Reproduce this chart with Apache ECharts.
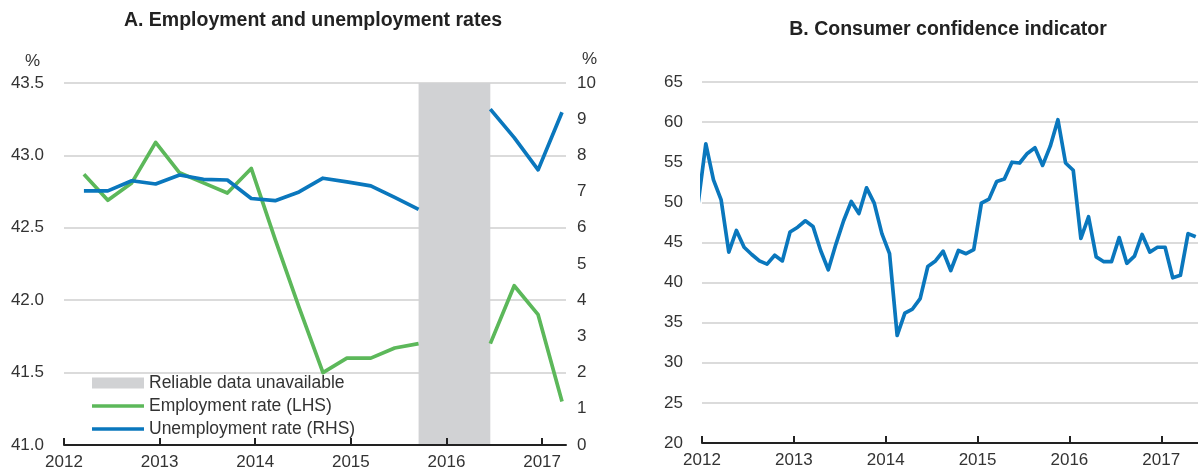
<!DOCTYPE html>
<html>
<head>
<meta charset="utf-8">
<script src="https://cdn.jsdelivr.net/npm/echarts@6/dist/echarts.min.js"></script>
<style>
  html, body { margin: 0; padding: 0; background: #fff; }
  #chart { width: 1198px; height: 474px; }
</style>
</head>
<body>
<div id="chart"></div>
<script>
// Panel A: quarterly labour-market rates (2012Q1 – 2017Q1); null = no reliable data
const quarters = [
  '2012Q1','2012Q2','2012Q3','2012Q4',
  '2013Q1','2013Q2','2013Q3','2013Q4',
  '2014Q1','2014Q2','2014Q3','2014Q4',
  '2015Q1','2015Q2','2015Q3','2015Q4',
  '2016Q1','2016Q2','2016Q3','2016Q4',
  '2017Q1'
];
const employmentRate = [
  42.87, 42.69, 42.81, 43.09,
  42.88, 42.81, 42.74, 42.91,
  42.42, 41.95, 41.50, 41.60,
  41.60, 41.67, 41.70, null,
  null, 41.70, 42.10, 41.90,
  41.30
];
const unemploymentRate = [
  7.02, 7.02, 7.30, 7.21,
  7.46, 7.34, 7.32, 6.81,
  6.75, 6.99, 7.37, 7.27,
  7.16, 6.84, 6.51, null,
  null, 9.28, 8.49, 7.60,
  9.19
];

// Panel B: monthly consumer confidence indicator (Dec 2011 – May 2017)
const months = [
  '2011-12',
  '2012-01','2012-02','2012-03','2012-04','2012-05','2012-06','2012-07','2012-08','2012-09','2012-10','2012-11','2012-12',
  '2013-01','2013-02','2013-03','2013-04','2013-05','2013-06','2013-07','2013-08','2013-09','2013-10','2013-11','2013-12',
  '2014-01','2014-02','2014-03','2014-04','2014-05','2014-06','2014-07','2014-08','2014-09','2014-10','2014-11','2014-12',
  '2015-01','2015-02','2015-03','2015-04','2015-05','2015-06','2015-07','2015-08','2015-09','2015-10','2015-11','2015-12',
  '2016-01','2016-02','2016-03','2016-04','2016-05','2016-06','2016-07','2016-08','2016-09','2016-10','2016-11','2016-12',
  '2017-01','2017-02','2017-03','2017-04','2017-05'
];
const consumerConfidence = [
  49.9,
  57.3, 52.8, 50.3, 43.8, 46.5, 44.4, 43.5, 42.7, 42.3, 43.4, 42.7, 46.3,
  46.9, 47.7, 47.0, 44.0, 41.6, 44.8, 47.7, 50.1, 48.6, 51.8, 49.9, 46.1,
  43.6, 33.4, 36.2, 36.7, 38.0, 42.0, 42.7, 43.9, 41.5, 44.0, 43.6, 44.1,
  49.9, 50.4, 52.6, 52.9, 55.0, 54.9, 56.1, 56.8, 54.6, 57.0, 60.3, 54.9,
  54.0, 45.5, 48.2, 43.2, 42.6, 42.6, 45.6, 42.4, 43.3, 46.0, 43.8, 44.4,
  44.4, 40.6, 40.9, 46.1, 45.7
];

const yearTicks = [2012, 2013, 2014, 2015, 2016, 2017];
const leftTicks = [41.0, 41.5, 42.0, 42.5, 43.0, 43.5];
const rightTicks = [0, 1, 2, 3, 4, 5, 6, 7, 8, 9, 10];
const confidenceTicks = [20, 25, 30, 35, 40, 45, 50, 55, 60, 65];

const NAME_GAP = 'Reliable data unavailable';
const NAME_EMP = 'Employment rate (LHS)';
const NAME_UNEMP = 'Unemployment rate (RHS)';

// Place each observation in the middle of the month it refers to
// (quarters are shown at their last month).
function quarterPos(q) {
  const year = +q.slice(0, 4), n = +q.slice(5);
  return year + (n * 3 - 0.5) / 12;
}
function monthPos(m) {
  const year = +m.slice(0, 4), mon = +m.slice(5);
  return year + (mon - 0.5) / 12;
}
const toPairs = (xs, ys, pos) => xs.map((x, i) => [pos(x), ys[i] == null ? '-' : ys[i]]);

// Shaded span: from the last quarter before the missing run to the first one after it
function gapSpan(values) {
  const first = values.findIndex(v => v == null);
  let last = first;
  while (last + 1 < values.length && values[last + 1] == null) last++;
  return [quarterPos(quarters[first - 1]), quarterPos(quarters[last + 1])];
}
const gap = gapSpan(employmentRate);

const FONT = "'Liberation Sans', Arial, Helvetica, sans-serif";
const TEXT = '#333333';
const GREEN = '#5cb85a';
const BLUE = '#0a77bd';
const GREY = '#d1d2d4';
const LABEL_SIZE = 17;
const LEGEND_SIZE = 17.5;
const LINE_W = 3.7;
const LINE_ICON = 'path://M0,0 L52,0 L52,3.7 L0,3.7 Z';

function xAxisFor(gridIndex, max) {
  return {
    type: 'value', gridIndex, min: 2012, max, interval: 1, z: 5,
    axisLine: { show: true, onZero: false, lineStyle: { color: '#222', width: 2 } },
    axisTick: { show: true, inside: true, length: 7, customValues: yearTicks,
                lineStyle: { color: '#222', width: 2 } },
    axisLabel: { customValues: yearTicks, margin: 9, color: TEXT, fontSize: LABEL_SIZE,
                 fontFamily: FONT, formatter: v => String(Math.round(v)) },
    splitLine: { show: false }
  };
}

const option = {
  animation: false,
  backgroundColor: '#fff',
  textStyle: { fontFamily: FONT },
  title: [
    { text: 'A. Employment and unemployment rates', left: 308, top: 6, textAlign: 'center',
      textStyle: { fontFamily: FONT, fontSize: 19.5, fontWeight: 'bold', color: '#222' } },
    { text: 'B. Consumer confidence indicator', left: 943, top: 15, textAlign: 'center',
      textStyle: { fontFamily: FONT, fontSize: 19.5, fontWeight: 'bold', color: '#222' } }
  ],
  grid: [
    { left: 64, top: 83, width: 502, height: 362 },
    { left: 702, top: 82, width: 496, height: 361 }
  ],
  legend: {
    orient: 'vertical', left: 92, top: 374, padding: 0,
    itemWidth: 52, itemHeight: 11, itemGap: 5,
    itemStyle: { borderWidth: 0 },
    textStyle: { fontFamily: FONT, fontSize: LEGEND_SIZE, color: TEXT },
    data: [
      { name: NAME_GAP, icon: 'rect' },
      { name: NAME_EMP, icon: LINE_ICON },
      { name: NAME_UNEMP, icon: LINE_ICON }
    ]
  },
  xAxis: [
    xAxisFor(0, 2017.25),
    xAxisFor(1, 2017.4)
  ],
  yAxis: [
    { type: 'value', gridIndex: 0, position: 'left', min: leftTicks[0], max: leftTicks[leftTicks.length - 1],
      interval: 0.5, name: '%', nameLocation: 'end', nameGap: 13,
      nameTextStyle: { fontFamily: FONT, fontSize: LABEL_SIZE, color: TEXT, align: 'right', padding: [0, 24, 0, 0] },
      axisLine: { show: false }, axisTick: { show: false },
      axisLabel: { margin: 20, color: TEXT, fontSize: LABEL_SIZE, fontFamily: FONT, formatter: v => v.toFixed(1) },
      splitLine: { show: true, lineStyle: { color: '#cfcfcf', width: 1.5 } } },
    { type: 'value', gridIndex: 0, position: 'right', min: rightTicks[0], max: rightTicks[rightTicks.length - 1],
      interval: 1, name: '%', nameLocation: 'end', nameGap: 15,
      nameTextStyle: { fontFamily: FONT, fontSize: LABEL_SIZE, color: TEXT, align: 'left', padding: [0, 0, 0, 16] },
      axisLine: { show: false }, axisTick: { show: false },
      axisLabel: { margin: 11, color: TEXT, fontSize: LABEL_SIZE, fontFamily: FONT },
      splitLine: { show: false } },
    { type: 'value', gridIndex: 1, min: confidenceTicks[0], max: confidenceTicks[confidenceTicks.length - 1],
      interval: 5,
      axisLine: { show: false }, axisTick: { show: false },
      axisLabel: { margin: 19, color: TEXT, fontSize: LABEL_SIZE, fontFamily: FONT },
      splitLine: { show: true, lineStyle: { color: '#cfcfcf', width: 1.5 } } }
  ],
  series: [
    { name: NAME_GAP, type: 'line', xAxisIndex: 0, yAxisIndex: 0, data: [],
      color: GREY, itemStyle: { color: GREY },
      markArea: { silent: true, itemStyle: { color: GREY },
                  data: [[{ xAxis: gap[0] }, { xAxis: gap[1] }]] } },
    { name: NAME_EMP, type: 'line', xAxisIndex: 0, yAxisIndex: 0,
      data: toPairs(quarters, employmentRate, quarterPos),
      showSymbol: false, symbol: 'none', connectNulls: false, color: GREEN,
      itemStyle: { color: GREEN },
      lineStyle: { color: GREEN, width: LINE_W, join: 'round' } },
    { name: NAME_UNEMP, type: 'line', xAxisIndex: 0, yAxisIndex: 1,
      data: toPairs(quarters, unemploymentRate, quarterPos),
      showSymbol: false, symbol: 'none', connectNulls: false, color: BLUE,
      itemStyle: { color: BLUE },
      lineStyle: { color: BLUE, width: LINE_W, join: 'round' } },
    { name: 'Consumer confidence indicator', type: 'line', xAxisIndex: 1, yAxisIndex: 2,
      data: toPairs(months, consumerConfidence, monthPos),
      showSymbol: false, symbol: 'none', clip: true, color: BLUE,
      lineStyle: { color: BLUE, width: LINE_W, join: 'round' } }
  ]
};

const chart = echarts.init(document.getElementById('chart'), null, { renderer: 'canvas' });
chart.setOption(option);
</script>
</body>
</html>
